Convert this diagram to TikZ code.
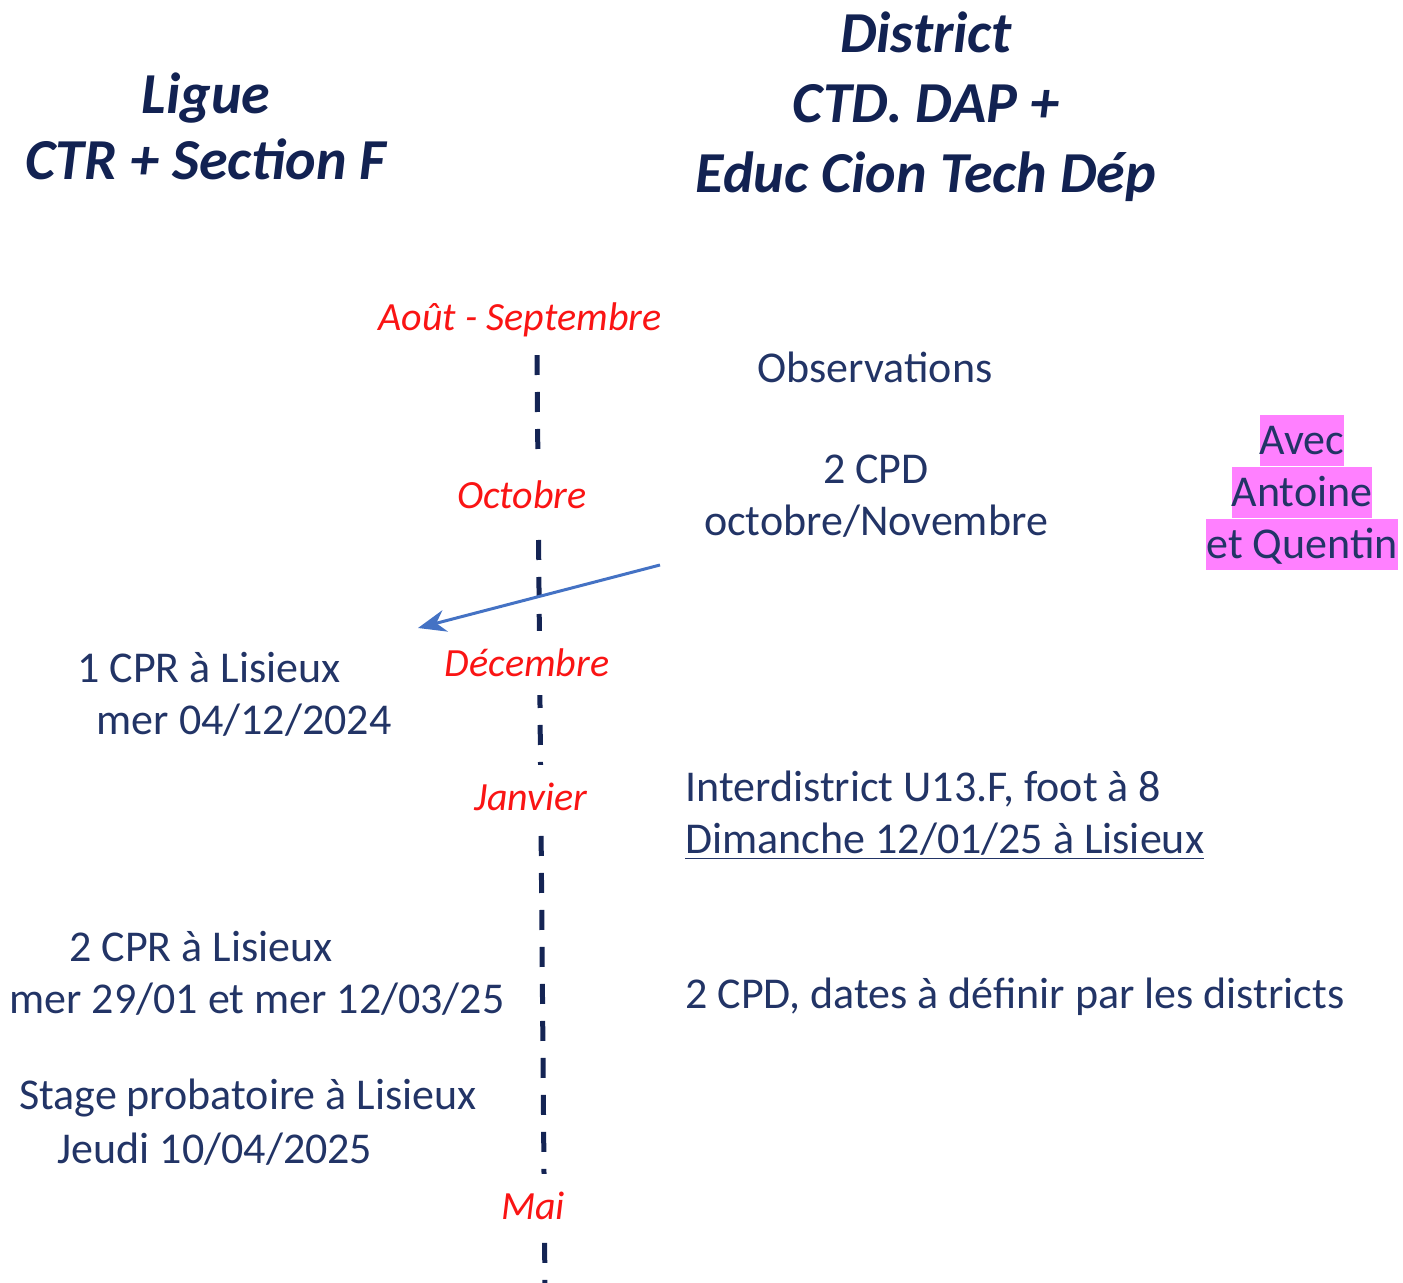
\documentclass[tikz,border=0pt]{standalone}
\usepackage{fontspec}
\setmainfont{Carlito}
\usetikzlibrary{arrows.meta}

\definecolor{headblue}{RGB}{18,34,82}
\definecolor{txtblue}{RGB}{34,52,102}
\definecolor{monthred}{RGB}{250,20,20}
\definecolor{lineblue}{RGB}{20,36,84}
\definecolor{arrblue}{RGB}{68,114,196}
\definecolor{hlpink}{RGB}{255,128,255}

\newcommand{\txtfont}{\fontsize{22}{26}\selectfont}
\newcommand{\headfont}{\fontsize{29}{34}\selectfont\bfseries\itshape}
\newcommand{\monthfont}{\fontsize{20}{24}\selectfont\itshape}

\begin{document}
\begin{tikzpicture}[x=0.5pt, y=-0.5pt,
    every node/.style={inner sep=0pt, text=txtblue, font=\txtfont},
    head/.style={font=\headfont, text=headblue, align=center},
    month/.style={font=\monthfont, text=monthred, fill=white, inner xsep=2pt, inner ysep=9pt},
    hilite/.style={fill=hlpink, anchor=base, text height=20pt, text depth=5.5pt},
    timeline/.style={draw=lineblue, line width=2.5pt, dash pattern=on 10pt off 8.5pt},
    moveto/.style={draw=arrblue, line width=1.5pt, -{Stealth[length=14pt, width=11pt]}}]
    \useasboundingbox (0,0) rectangle (1403,1283);

    % time line, the month labels mask it
    \coordinate (lt) at (537,355);
    \coordinate (lb) at (545,1290);
    \draw[timeline] (lt) -- (lb);

    \node[head] (ligue) at (206,126) {Ligue\\[-1pt]CTR + Section F};
    \node[head] (district) at (926,107) {District\\[1pt]CTD. DAP +\\[1pt]Educ Cion Tech Dép};

    \node[month] (aout) at (520,320) {Août - Septembre};
    \node[month] (oct) at (522,495) {Octobre};
    \node[month] (dec) at (527,663) {Décembre};
    \node[month] (jan) at (531,797) {Janvier};
    \node[month] (mai) at (533,1206) {Mai};

    \node (obs) at (875,367) {Observations};
    \node[align=center] (cpd) at (876,496) {2 CPD\\octobre/Novembre};

    \node[hilite] (avec1) at (1302,455) {Avec};
    \node[hilite] (avec2) at (1302,507) {Antoine};
    \node[hilite] (avec3) at (1302,559) {et Quentin};

    \node (cprA) at (209,668) {1 CPR à Lisieux};
    \node (cprAd) at (244,720) {mer 04/12/2024};

    \node[anchor=west, align=left] (inter) at (685,815)
        {Interdistrict U13.F, foot à 8\\\underline{Dimanche 12/01/25 à Lisieux}};

    \node (cprB) at (201,947) {2 CPR à Lisieux};
    \node (cprBd) at (257,999) {mer 29/01 et mer 12/03/25};
    \node[anchor=west] (cpdB) at (685,997) {2 CPD, dates à définir par les districts};

    \node (stage) at (248,1098) {Stage probatoire à Lisieux};
    \node (staged) at (215,1149) {Jeudi 10/04/2025};

    \coordinate (as) at (660,565);
    \coordinate (ae) at (418,628);
    \draw[moveto] (as) -- (ae);
\end{tikzpicture}
\end{document}
